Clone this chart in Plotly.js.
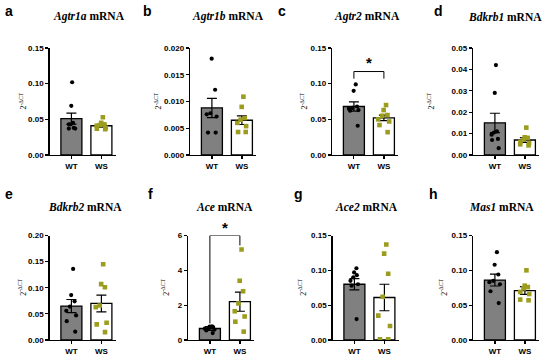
<!DOCTYPE html>
<html>
<head>
<meta charset="utf-8">
<script src="https://cdn.plot.ly/plotly-3.0.1.min.js"></script>
<style>html,body{margin:0;padding:0;background:#fff;}#chart{width:550px;height:358px;}</style>
</head>
<body>
<div id="chart"></div>
<script>
// ---------------- DATA ----------------
const groups = ['WT', 'WS'];
const genes = ['Agtr1a', 'Agtr1b', 'Agtr2', 'Bdkrb1', 'Bdkrb2', 'Ace', 'Ace2', 'Mas1'];
const panelLetters = ['a', 'b', 'c', 'd', 'e', 'f', 'g', 'h'];
const yMax = [0.15, 0.020, 0.15, 0.05, 0.20, 6, 0.15, 0.15];
const yStep = [0.05, 0.005, 0.05, 0.01, 0.05, 2, 0.05, 0.05];
const yFormat = ['.2f', '.3f', '.2f', '.2f', '.2f', 'd', '.2f', '.2f'];

const wtMean = [0.051, 0.0088, 0.068, 0.015, 0.065, 0.66, 0.080, 0.086];
const wsMean = [0.041, 0.0065, 0.052, 0.0070, 0.070, 2.2, 0.061, 0.071];
const wtSem = [0.0078, 0.0018, 0.0065, 0.0045, 0.0125, 0.11, 0.008, 0.0085];
const wsSem = [0.002, 0.0008, 0.0038, 0.0011, 0.016, 0.55, 0.019, 0.0055];

const wtPoints = [
  [0.102, 0.069, 0.045, 0.043, 0.043, 0.038, 0.037, 0.037],
  [0.018, 0.0122, 0.0078, 0.0076, 0.0072, 0.0042, 0.0042],
  [0.099, 0.090, 0.068, 0.066, 0.065, 0.063, 0.062, 0.041],
  [0.042, 0.029, 0.011, 0.0105, 0.0095, 0.0075, 0.007, 0.0032],
  [0.136, 0.086, 0.074, 0.064, 0.056, 0.047, 0.036, 0.016],
  [0.78, 0.77, 0.74, 0.70, 0.65, 0.60, 0.55, 0.40],
  [0.103, 0.097, 0.093, 0.090, 0.085, 0.080, 0.078, 0.030],
  [0.126, 0.108, 0.094, 0.085, 0.083, 0.080, 0.070, 0.053]
];
const wsPoints = [
  [0.053, 0.045, 0.043, 0.042, 0.041, 0.038, 0.037, 0.036],
  [0.0109, 0.0090, 0.0069, 0.0066, 0.0060, 0.0054, 0.0043, 0.0043],
  [0.070, 0.063, 0.056, 0.055, 0.050, 0.047, 0.042, 0.032],
  [0.0128, 0.0083, 0.0080, 0.0072, 0.0062, 0.0055, 0.0050, 0.0045],
  [0.145, 0.107, 0.101, 0.066, 0.063, 0.033, 0.030, 0.015],
  [5.2, 3.4, 2.8, 2.1, 1.65, 1.35, 1.05, 0.48],
  [0.137, 0.124, 0.095, 0.062, 0.035, 0.020, 0.001, 0.001],
  [0.100, 0.078, 0.076, 0.074, 0.069, 0.066, 0.058, 0.057]
];

// significance brackets: panel index, top of bracket, WT leg bottom, WS leg bottom, star level
const sigPanel = [2, 5];
const sigTop = [0.117, 6.0];
const sigWtLeg = [0.107, 0.95];
const sigWsLeg = [0.107, 5.43];
const sigStar = [0.129, 6.45];

// ---------------- STYLE / LAYOUT ----------------
const W = 550, H = 358;
const axisLeftPx = [49.5, 190, 332, 473, 49.5, 188, 332.5, 473];
const plotWidthPx = 66;
const rowTopPx = [48, 235.5];
const rowBottomPx = [155, 340];
const titleCenterPx = [89, 228, 367, 505, 85, 224, 366, 501];
const titleYPx = [17, 207];
const letterXPx = [3, 141, 276, 432, 3, 146, 292, 427];
const letterYPx = [11, 194];
const yTitleXPx = [22, 157, 303, 430, 22, 165, 302, 443];

const WT_FILL = '#808080';
const WS_FILL = '#ffffff';
const WS_DOT = '#9c9c1e';
const tickFont = {family: 'Liberation Sans, Arial, sans-serif', size: 8, color: '#000', weight: 700};

const data = [];
const layout = {
  width: W, height: H, autosize: false,
  margin: {l: 0, r: 0, t: 0, b: 0, pad: 0},
  paper_bgcolor: '#fff', plot_bgcolor: 'rgba(0,0,0,0)',
  showlegend: false,
  bargap: 0.3, boxgap: 0.3,
  annotations: [], shapes: []
};

for (let i = 0; i < 8; i++) {
  const n = i + 1;
  const xa = 'x' + (n === 1 ? '' : n), ya = 'y' + (n === 1 ? '' : n);
  const xKey = 'xaxis' + (n === 1 ? '' : n), yKey = 'yaxis' + (n === 1 ? '' : n);
  const row = i < 4 ? 0 : 1;
  const x0 = axisLeftPx[i] / W, x1 = (axisLeftPx[i] + plotWidthPx) / W;
  const y0 = 1 - rowBottomPx[row] / H, y1 = 1 - rowTopPx[row] / H;

  layout[xKey] = {
    domain: [x0, x1], anchor: ya, type: 'category',
    categoryorder: 'array', categoryarray: groups,
    range: [-0.73, 1.47], fixedrange: true,
    showline: true, linecolor: '#000', linewidth: 1.3,
    ticks: 'outside', ticklen: 3, tickwidth: 1.2, tickcolor: '#000',
    showgrid: false, zeroline: false, tickfont: tickFont
  };
  layout[yKey] = {
    domain: [y0, y1], anchor: xa,
    range: [0, yMax[i]], tick0: 0, dtick: yStep[i], tickformat: yFormat[i],
    showline: true, linecolor: '#000', linewidth: 1.3,
    ticks: 'outside', ticklen: 3, tickwidth: 1.2, tickcolor: '#000',
    showgrid: false, zeroline: false, tickfont: tickFont
  };

  data.push({
    type: 'bar', x: groups, y: [wtMean[i], wsMean[i]], xaxis: xa, yaxis: ya,
    marker: {color: [WT_FILL, WS_FILL], line: {color: '#000', width: 1.3}},
    error_y: {type: 'data', array: [wtSem[i], wsSem[i]], visible: true, color: '#000', thickness: 1.2, width: 5},
    hoverinfo: 'skip'
  });
  data.push({
    type: 'box', x0: 'WT', y: wtPoints[i], xaxis: xa, yaxis: ya,
    boxpoints: 'all', jitter: 1, pointpos: 0, whiskerwidth: 0,
    fillcolor: 'rgba(0,0,0,0)', line: {width: 0, color: 'rgba(0,0,0,0)'},
    marker: {color: '#000', size: 4.2, symbol: 'circle'}, hoverinfo: 'skip'
  });
  data.push({
    type: 'box', x0: 'WS', y: wsPoints[i], xaxis: xa, yaxis: ya,
    boxpoints: 'all', jitter: 1, pointpos: 0, whiskerwidth: 0,
    fillcolor: 'rgba(0,0,0,0)', line: {width: 0, color: 'rgba(0,0,0,0)'},
    marker: {color: WS_DOT, size: 4.6, symbol: 'square'}, hoverinfo: 'skip'
  });

  // panel title
  layout.annotations.push({
    xref: 'paper', yref: 'paper', x: titleCenterPx[i] / W, y: 1 - titleYPx[row] / H,
    xanchor: 'center', yanchor: 'middle', showarrow: false,
    text: '<i>' + genes[i] + '</i> mRNA',
    font: {family: 'Liberation Serif, Times New Roman, serif', size: 11.5, color: '#000', weight: 700}
  });
  // panel letter
  layout.annotations.push({
    xref: 'paper', yref: 'paper', x: letterXPx[i] / W, y: 1 - letterYPx[row] / H,
    xanchor: 'left', yanchor: 'middle', showarrow: false,
    text: panelLetters[i],
    font: {family: 'Liberation Sans, Arial, sans-serif', size: 14, color: '#000', weight: 700}
  });
  // y title
  layout.annotations.push({
    xref: 'paper', yref: 'paper', x: yTitleXPx[i] / W, y: 1 - (rowTopPx[row] + rowBottomPx[row]) / 2 / H,
    xanchor: 'center', yanchor: 'middle', showarrow: false, textangle: -90,
    text: '2<sup>-ΔCT</sup>',
    font: {family: 'Liberation Serif, Times New Roman, serif', size: 8, color: '#000'}
  });
}

// significance brackets
for (let k = 0; k < sigPanel.length; k++) {
  const n = sigPanel[k] + 1;
  const xa = 'x' + n, ya = 'y' + n;
  data.push({
    type: 'scatter', mode: 'lines', xaxis: xa, yaxis: ya, cliponaxis: false,
    x: ['WT', 'WT', 'WS', 'WS'],
    y: [sigWtLeg[k], sigTop[k], sigTop[k], sigWsLeg[k]],
    line: {color: '#000', width: 1}, hoverinfo: 'skip'
  });
  layout.annotations.push({
    xref: xa, yref: ya + ' domain', x: 0.5, y: sigStar[k] / yMax[sigPanel[k]], showarrow: false,
    xanchor: 'center', yanchor: 'middle', text: '*',
    font: {family: 'Liberation Sans, Arial, sans-serif', size: 15, color: '#000', weight: 700}
  });
}

Plotly.newPlot('chart', data, layout, {staticPlot: true, displayModeBar: false});
</script>
</body>
</html>
